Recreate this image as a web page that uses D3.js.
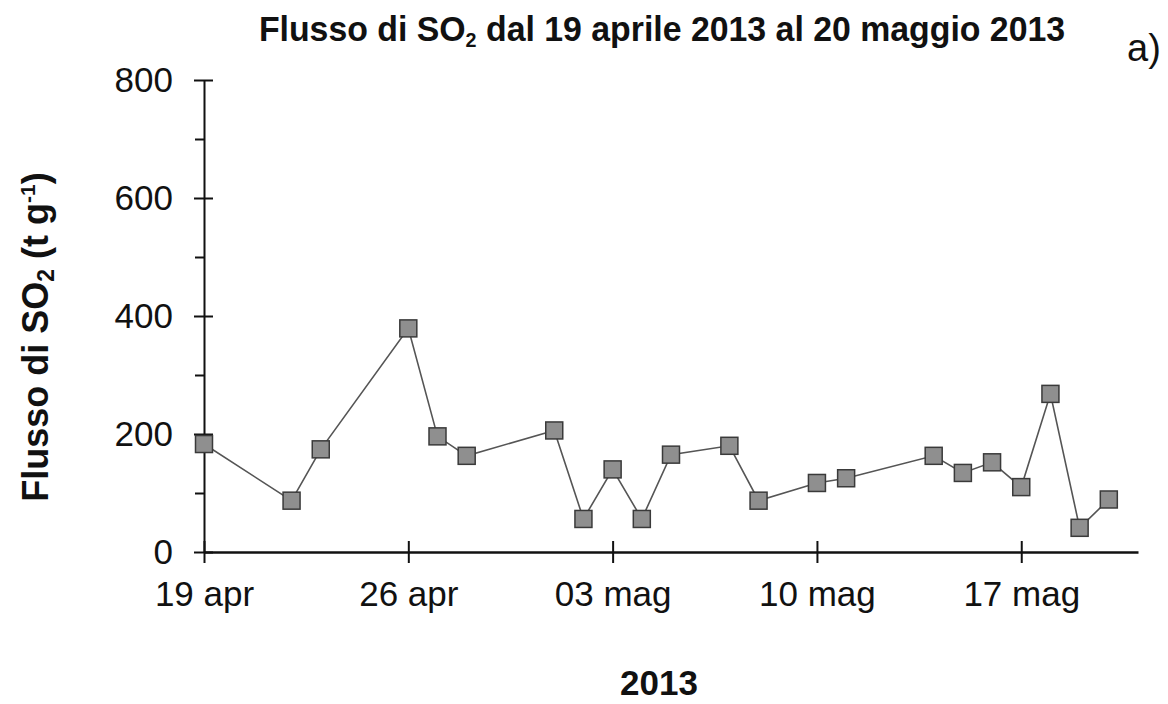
<!DOCTYPE html>
<html>
<head>
<meta charset="utf-8">
<script src="https://cdn.jsdelivr.net/npm/d3@7"></script>
<style>
  body { margin: 0; background: #fff; }
  svg { display: block; }
  text { font-family: Arial, "Liberation Sans", sans-serif; fill: #111; }
</style>
</head>
<body>
<svg id="chart" width="1168" height="704"></svg>
<script>
// ---- data ----
const dates = ["2013-04-19","2013-04-22","2013-04-23","2013-04-26","2013-04-27","2013-04-28",
  "2013-05-01","2013-05-02","2013-05-03","2013-05-04","2013-05-05","2013-05-07","2013-05-08",
  "2013-05-10","2013-05-11","2013-05-14","2013-05-15","2013-05-16","2013-05-17","2013-05-18",
  "2013-05-19","2013-05-20"];
const so2Flux = [183, 87, 174, 379, 196, 163, 206, 56, 140, 56, 165, 180, 87, 117, 125, 163, 134, 152, 110, 268, 41, 89];
const xTickDates = ["2013-04-19","2013-04-26","2013-05-03","2013-05-10","2013-05-17"];
const xTickLabels = ["19 apr","26 apr","03 mag","10 mag","17 mag"];
const yTicks = [0, 200, 400, 600, 800];
const yMinorTicks = [100, 300, 500, 700];
const xDomain = ["2013-04-19","2013-05-21"];

(function () {
const parse = d3.timeParse("%Y-%m-%d");
const data = dates.map((d, i) => ({ date: parse(d), value: so2Flux[i] }));

const svg = d3.select("#chart");
const mLeft = 204, mRight = 1138, mTop = 80, mBottom = 552;

const x = d3.scaleTime().domain(xDomain.map(parse)).range([mLeft, mRight]);
const y = d3.scaleLinear().domain([0, 800]).range([mBottom, mTop]);

// Y axis: line, major ticks crossing, minor ticks outside
const yAxisMajor = d3.axisLeft(y).tickValues(yTicks).tickSizeInner(10).tickSizeOuter(0).tickPadding(21)
  .tickFormat(d3.format("d"));
const gy = svg.append("g").attr("transform", `translate(${mLeft},0)`).call(yAxisMajor);
gy.select(".domain").attr("stroke", "#111").attr("stroke-width", 2);
gy.selectAll(".tick line").attr("x1", 9).attr("x2", -10).attr("stroke", "#111").attr("stroke-width", 2);
gy.selectAll(".tick text").style("font-size", "35px").attr("fill", "#111");
svg.append("g").attr("transform", `translate(${mLeft},0)`)
  .call(d3.axisLeft(y).tickValues(yMinorTicks).tickSize(9).tickFormat(""))
  .call(g => g.select(".domain").remove())
  .selectAll("line").attr("stroke", "#111").attr("stroke-width", 2);

// X axis
const xAxis = d3.axisBottom(x).tickValues(xTickDates.map(parse)).tickSizeInner(11).tickSizeOuter(0).tickPadding(18)
  .tickFormat((d, i) => xTickLabels[i]);
const gx = svg.append("g").attr("transform", `translate(0,${mBottom})`).call(xAxis);
gx.select(".domain").attr("stroke", "#111").attr("stroke-width", 2.5);
gx.selectAll(".tick line").attr("y1", -11).attr("y2", 11).attr("stroke", "#111").attr("stroke-width", 2);
gx.selectAll(".tick text").style("font-size", "35px").attr("fill", "#111");

// line
const line = d3.line().x(d => x(d.date)).y(d => y(d.value));
svg.append("path").datum(data).attr("d", line)
  .attr("fill", "none").attr("stroke", "#555").attr("stroke-width", 1.6);

// markers
const s = 17;
svg.append("g").selectAll("rect").data(data).join("rect")
  .attr("x", d => x(d.date) - s / 2).attr("y", d => y(d.value) - s / 2)
  .attr("width", s).attr("height", s)
  .attr("fill", "#8f8f8f").attr("stroke", "#3a3a3a").attr("stroke-width", 1.5);

// title
const title = svg.append("text").attr("transform", "translate(662,41) scale(0.94,1)").attr("text-anchor", "middle")
  .style("font-size", "36px").style("font-weight", "bold");
title.append("tspan").text("Flusso di SO");
title.append("tspan").text("2").style("font-size", "21px").attr("dy", 6);
title.append("tspan").text(" dal 19 aprile 2013 al 20 maggio 2013").attr("dy", -6);

svg.append("text").attr("x", 1127).attr("y", 61).style("font-size", "38px").text("a)");

// x axis title
svg.append("text").attr("x", 659).attr("y", 695).attr("text-anchor", "middle")
  .style("font-size", "35px").style("font-weight", "bold").text("2013");

// y axis title
const yt = svg.append("text").attr("transform", "translate(48,337) rotate(-90)").attr("text-anchor", "middle")
  .style("font-size", "36px").style("font-weight", "bold");
yt.append("tspan").text("Flusso di SO");
yt.append("tspan").text("2").style("font-size", "23px").attr("dy", 6);
yt.append("tspan").text("  (t g").attr("dy", -6);
yt.append("tspan").text("-1").style("font-size", "21px").attr("dy", -13);
yt.append("tspan").text(")").attr("dy", 13);
})();
</script>
</body>
</html>
